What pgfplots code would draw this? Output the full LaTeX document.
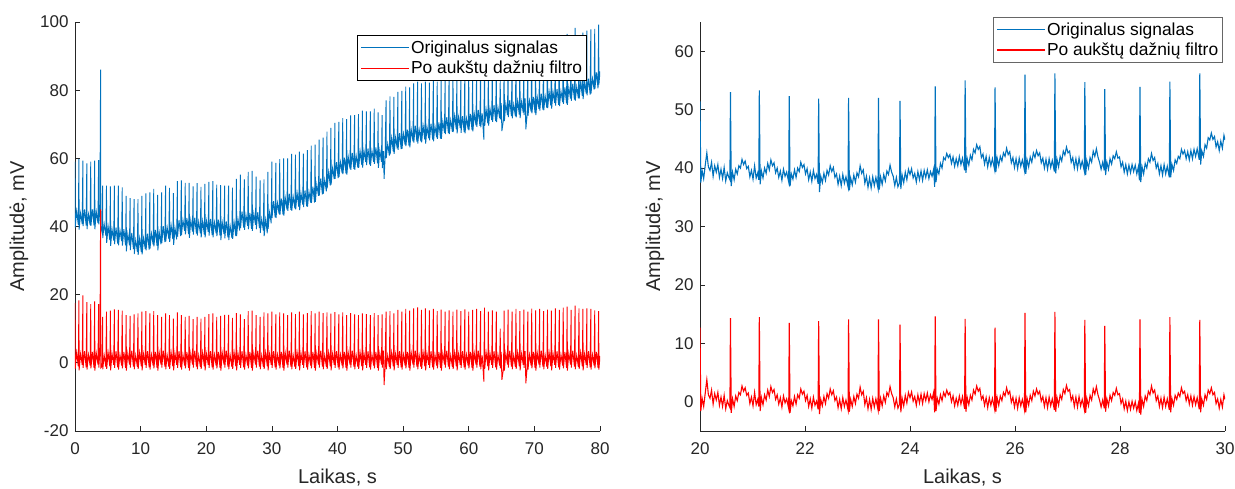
\documentclass[border=0pt]{standalone}
\usepackage{pgfplots}
\usepackage{pgfplotstable}
\pgfplotsset{compat=1.18}
\usepackage{fontspec}
\setmainfont{Liberation Sans}
\definecolor{mblue}{RGB}{0,114,189}
\definecolor{mred}{RGB}{255,0,0}
\definecolor{axgray}{RGB}{38,38,38}

\pgfplotstableread[row sep=\\]{
t b r\\
0 59.0 17.5\\ 0.03 39.7 -1.8\\ 0.25 44.5 3.0\\ 0.5 40.5 -1.0\\
0.6 59.8 18.3\\ 0.63 39.1 -2.2\\ 0.85 43.9 2.6\\ 1.1 40.7 -0.6\\
1.2 59.3 19.8\\ 1.23 40.1 -1.5\\ 1.45 45.0 3.4\\ 1.7 40.3 -1.3\\
1.8 58.5 17.8\\ 1.83 39.2 -2.0\\ 2.05 43.6 2.4\\ 2.3 40.4 -0.8\\
2.4 59.0 17.2\\ 2.43 40.2 -1.6\\ 2.65 45.0 3.2\\ 2.9 40.3 -1.5\\
3.0 59.3 18.0\\ 3.03 39.2 -2.3\\ 3.25 44.3 2.8\\ 3.5 41.0 -0.5\\
3.6 59.5 17.2\\ 3.63 40.6 -1.4\\ 3.8 45.6 3.6\\ 3.9 86.0 45.0\\ 3.93 40.0 -1.5\\ 4.1 38.5 -1.1\\
4.2 52.0 13.5\\ 4.23 36.6 -1.9\\ 4.45 40.7 2.2\\ 4.7 37.3 -1.2\\
4.8 52.0 15.0\\ 4.83 35.2 -1.8\\ 5.05 40.0 3.0\\ 5.3 36.0 -1.0\\
5.4 51.8 15.3\\ 5.43 34.3 -2.2\\ 5.65 39.1 2.6\\ 5.9 35.9 -0.6\\
6.0 52.0 15.7\\ 6.03 34.8 -1.5\\ 6.25 39.7 3.4\\ 6.5 35.0 -1.3\\
6.6 52.0 15.5\\ 6.63 34.5 -2.0\\ 6.85 38.9 2.4\\ 7.1 35.7 -0.8\\
7.2 51.5 15.3\\ 7.23 34.4 -1.6\\ 7.45 39.2 3.2\\ 7.7 34.5 -1.5\\
7.8 49.0 14.0\\ 7.83 32.7 -2.3\\ 8.05 37.8 2.8\\ 8.3 34.5 -0.5\\
8.4 48.3 13.8\\ 8.43 33.1 -1.4\\ 8.65 38.1 3.6\\ 8.9 33.4 -1.1\\
9.0 48.0 14.2\\ 9.03 31.9 -1.9\\ 9.25 36.0 2.2\\ 9.5 32.6 -1.2\\
9.6 48.0 14.5\\ 9.63 31.7 -1.8\\ 9.85 36.5 3.0\\ 10.1 32.5 -1.0\\
10.2 49.0 15.0\\ 10.23 31.8 -2.2\\ 10.45 36.6 2.6\\ 10.7 33.4 -0.6\\
10.8 49.7 15.2\\ 10.83 33.0 -1.5\\ 11.05 37.9 3.4\\ 11.3 33.2 -1.3\\
11.4 50.0 14.5\\ 11.43 33.5 -2.0\\ 11.65 37.9 2.4\\ 11.9 34.7 -0.8\\
12.0 51.0 15.2\\ 12.03 34.2 -1.6\\ 12.25 39.0 3.2\\ 12.5 34.3 -1.5\\
12.6 49.3 14.0\\ 12.63 33.0 -2.3\\ 12.85 38.1 2.8\\ 13.1 34.8 -0.5\\
13.2 50.0 13.5\\ 13.23 35.1 -1.4\\ 13.45 40.1 3.6\\ 13.7 35.4 -1.1\\
13.8 52.0 14.5\\ 13.83 35.6 -1.9\\ 14.05 39.7 2.2\\ 14.3 36.3 -1.2\\
14.4 51.3 14.0\\ 14.43 35.5 -1.8\\ 14.65 40.3 3.0\\ 14.9 36.3 -1.0\\
15.0 49.8 13.0\\ 15.03 34.6 -2.2\\ 15.25 39.4 2.6\\ 15.5 36.2 -0.6\\
15.6 53.3 14.8\\ 15.63 37.0 -1.5\\ 15.85 41.9 3.4\\ 16.1 37.2 -1.3\\
16.2 53.5 14.0\\ 16.23 37.5 -2.0\\ 16.45 41.9 2.4\\ 16.7 38.7 -0.8\\
16.8 52.8 13.5\\ 16.83 37.7 -1.6\\ 17.05 42.5 3.2\\ 17.3 37.8 -1.5\\
17.4 52.8 13.8\\ 17.43 36.7 -2.3\\ 17.65 41.8 2.8\\ 17.9 38.5 -0.5\\
18.0 51.8 12.8\\ 18.03 37.6 -1.4\\ 18.25 42.6 3.6\\ 18.5 37.9 -1.1\\
18.6 52.7 13.5\\ 18.63 37.3 -1.9\\ 18.85 41.4 2.2\\ 19.1 38.0 -1.2\\
19.2 51.6 13.0\\ 19.23 36.8 -1.8\\ 19.45 41.6 3.0\\ 19.7 37.6 -1.0\\
19.8 52.5 13.5\\ 19.83 36.8 -2.2\\ 20.05 41.6 2.6\\ 20.3 38.4 -0.6\\
20.4 53.1 14.3\\ 20.43 37.3 -1.5\\ 20.65 42.2 3.4\\ 20.9 37.5 -1.3\\
21.0 53.3 14.5\\ 21.03 36.8 -2.0\\ 21.25 41.2 2.4\\ 21.5 38.0 -0.8\\
21.6 52.3 13.5\\ 21.63 37.2 -1.6\\ 21.85 42.0 3.2\\ 22.1 37.3 -1.5\\
22.2 52.1 13.8\\ 22.23 36.0 -2.3\\ 22.45 41.1 2.8\\ 22.7 37.8 -0.5\\
22.8 52.0 14.1\\ 22.83 36.5 -1.4\\ 23.05 41.5 3.6\\ 23.3 36.8 -1.1\\
23.4 52.0 14.1\\ 23.43 36.0 -1.9\\ 23.65 40.1 2.2\\ 23.9 36.7 -1.2\\
24.0 51.4 13.2\\ 24.03 36.4 -1.8\\ 24.25 41.2 3.0\\ 24.5 37.2 -1.0\\
24.6 54.0 14.6\\ 24.63 37.2 -2.2\\ 24.85 42.0 2.6\\ 25.1 38.8 -0.6\\
25.2 55.2 14.2\\ 25.23 39.5 -1.5\\ 25.45 44.4 3.4\\ 25.7 39.7 -1.3\\
25.8 53.8 12.8\\ 25.83 39.0 -2.0\\ 26.05 43.4 2.4\\ 26.3 40.2 -0.8\\
26.4 56.0 15.2\\ 26.43 39.2 -1.6\\ 26.65 44.0 3.2\\ 26.9 39.3 -1.5\\
27.0 56.3 15.3\\ 27.03 38.7 -2.3\\ 27.25 43.8 2.8\\ 27.5 40.5 -0.5\\
27.6 54.6 14.0\\ 27.63 39.2 -1.4\\ 27.85 44.2 3.6\\ 28.1 39.5 -1.1\\
28.2 53.5 13.5\\ 28.23 38.1 -1.9\\ 28.45 42.2 2.2\\ 28.7 38.8 -1.2\\
28.8 53.8 14.8\\ 28.83 37.2 -1.8\\ 29.05 42.0 3.0\\ 29.3 38.0 -1.0\\
29.4 56.0 14.5\\ 29.43 39.3 -2.2\\ 29.65 44.1 2.6\\ 29.9 40.9 -0.6\\
30.0 59.0 15.0\\ 30.03 42.5 -1.5\\ 30.25 47.4 3.4\\ 30.5 42.7 -1.3\\
30.6 58.7 14.2\\ 30.63 42.5 -2.0\\ 30.85 46.9 2.4\\ 31.1 43.7 -0.8\\
31.2 59.8 14.8\\ 31.23 43.4 -1.6\\ 31.45 48.2 3.2\\ 31.7 43.5 -1.5\\
31.8 60.0 14.5\\ 31.83 43.2 -2.3\\ 32.05 48.3 2.8\\ 32.3 45.0 -0.5\\
32.4 60.0 14.0\\ 32.43 44.6 -1.4\\ 32.65 49.6 3.6\\ 32.9 44.9 -1.1\\
33.0 61.3 14.8\\ 33.03 44.6 -1.9\\ 33.25 48.7 2.2\\ 33.5 45.3 -1.2\\
33.6 61.1 14.3\\ 33.63 45.0 -1.8\\ 33.85 49.8 3.0\\ 34.1 45.8 -1.0\\
34.2 62.0 15.0\\ 34.23 44.8 -2.2\\ 34.45 49.6 2.6\\ 34.7 46.4 -0.6\\
34.8 61.4 14.2\\ 34.83 45.7 -1.5\\ 35.05 50.6 3.4\\ 35.3 45.9 -1.3\\
35.4 62.4 14.6\\ 35.43 45.8 -2.0\\ 35.65 50.2 2.4\\ 35.9 47.0 -0.8\\
36.0 63.7 15.2\\ 36.03 46.9 -1.6\\ 36.25 51.7 3.2\\ 36.5 47.0 -1.5\\
36.6 64.0 14.5\\ 36.63 47.2 -2.3\\ 36.85 52.3 2.8\\ 37.1 49.0 -0.5\\
37.2 65.5 15.0\\ 37.23 49.1 -1.4\\ 37.45 54.1 3.6\\ 37.7 49.4 -1.1\\
37.8 66.1 14.6\\ 37.83 49.6 -1.9\\ 38.05 53.7 2.2\\ 38.3 50.3 -1.2\\
38.4 67.8 14.8\\ 38.43 51.2 -1.8\\ 38.65 56.0 3.0\\ 38.9 52.0 -1.0\\
39.0 68.9 14.4\\ 39.03 52.3 -2.2\\ 39.25 57.1 2.6\\ 39.5 53.9 -0.6\\
39.6 70.4 14.9\\ 39.63 54.0 -1.5\\ 39.85 58.9 3.4\\ 40.1 54.2 -1.3\\
40.2 70.7 14.2\\ 40.23 54.5 -2.0\\ 40.45 58.9 2.4\\ 40.7 55.7 -0.8\\
40.8 71.8 14.8\\ 40.83 55.4 -1.6\\ 41.05 60.2 3.2\\ 41.3 55.5 -1.5\\
41.4 71.5 14.0\\ 41.43 55.2 -2.3\\ 41.65 60.3 2.8\\ 41.9 57.0 -0.5\\
42.0 72.6 14.6\\ 42.03 56.6 -1.4\\ 42.25 61.6 3.6\\ 42.5 56.9 -1.1\\
42.6 72.7 14.2\\ 42.63 56.6 -1.9\\ 42.85 60.7 2.2\\ 43.1 57.3 -1.2\\
43.2 73.0 14.0\\ 43.23 57.2 -1.8\\ 43.45 62.0 3.0\\ 43.7 58.0 -1.0\\
43.8 74.0 14.5\\ 43.83 57.3 -2.2\\ 44.05 62.1 2.6\\ 44.3 58.9 -0.6\\
44.4 73.8 14.3\\ 44.43 58.0 -1.5\\ 44.65 62.9 3.4\\ 44.9 58.2 -1.3\\
45.0 73.8 14.0\\ 45.03 57.8 -2.0\\ 45.25 62.2 2.4\\ 45.5 59.0 -0.8\\
45.6 74.6 14.6\\ 45.63 58.4 -1.6\\ 45.85 63.2 3.2\\ 46.1 58.5 -1.5\\
46.2 73.5 14.0\\ 46.23 57.2 -2.3\\ 46.45 62.3 2.8\\ 46.7 59.0 -0.5\\
46.8 72.7 14.2\\ 46.83 57.1 -1.4\\ 47.0 62.1 3.6\\ 47.1 54.0 -6.5\\ 47.25 60.0 -1.1\\
47.4 77.0 15.0\\ 47.43 60.1 -1.9\\ 47.65 64.2 2.2\\ 47.9 60.8 -1.2\\
48.0 78.2 15.2\\ 48.03 61.2 -1.8\\ 48.25 66.0 3.0\\ 48.5 62.0 -1.0\\
48.6 78.0 14.5\\ 48.63 61.3 -2.2\\ 48.85 66.1 2.6\\ 49.1 62.9 -0.6\\
49.2 79.5 15.5\\ 49.23 62.5 -1.5\\ 49.45 67.4 3.4\\ 49.7 62.7 -1.3\\
49.8 79.8 15.0\\ 49.83 62.8 -2.0\\ 50.05 67.2 2.4\\ 50.3 64.0 -0.8\\
50.4 81.0 15.8\\ 50.43 63.6 -1.6\\ 50.65 68.4 3.2\\ 50.9 63.7 -1.5\\
51.0 80.8 15.3\\ 51.03 63.2 -2.3\\ 51.25 68.3 2.8\\ 51.5 65.0 -0.5\\
51.6 82.0 16.0\\ 51.63 64.6 -1.4\\ 51.85 69.6 3.6\\ 52.1 64.9 -1.1\\
52.2 82.5 16.3\\ 52.23 64.3 -1.9\\ 52.45 68.4 2.2\\ 52.7 65.0 -1.2\\
52.8 82.0 15.5\\ 52.83 64.7 -1.8\\ 53.05 69.5 3.0\\ 53.3 65.5 -1.0\\
53.4 82.5 16.0\\ 53.43 64.3 -2.2\\ 53.65 69.1 2.6\\ 53.9 65.9 -0.6\\
54.0 82.2 15.4\\ 54.03 65.3 -1.5\\ 54.25 70.2 3.4\\ 54.5 65.5 -1.3\\
54.6 82.8 15.8\\ 54.63 65.0 -2.0\\ 54.85 69.4 2.4\\ 55.1 66.2 -0.8\\
55.2 82.5 15.2\\ 55.23 65.7 -1.6\\ 55.45 70.5 3.2\\ 55.7 65.8 -1.5\\
55.8 83.6 15.6\\ 55.83 65.7 -2.3\\ 56.05 70.8 2.8\\ 56.3 67.5 -0.5\\
56.4 83.5 15.0\\ 56.43 67.1 -1.4\\ 56.65 72.1 3.6\\ 56.9 67.4 -1.1\\
57.0 84.4 15.4\\ 57.03 67.1 -1.9\\ 57.25 71.2 2.2\\ 57.5 67.8 -1.2\\
57.6 84.5 15.0\\ 57.63 67.7 -1.8\\ 57.85 72.5 3.0\\ 58.1 68.5 -1.0\\
58.2 85.1 15.6\\ 58.23 67.3 -2.2\\ 58.45 72.1 2.6\\ 58.7 68.9 -0.6\\
58.8 84.2 15.2\\ 58.83 67.5 -1.5\\ 59.05 72.4 3.4\\ 59.3 67.7 -1.3\\
59.4 85.0 15.7\\ 59.43 67.3 -2.0\\ 59.65 71.7 2.4\\ 59.9 68.5 -0.8\\
60.0 84.8 15.0\\ 60.03 68.2 -1.6\\ 60.25 73.0 3.2\\ 60.5 68.3 -1.5\\
60.6 85.7 15.5\\ 60.63 67.9 -2.3\\ 60.85 73.0 2.8\\ 61.1 69.7 -0.5\\
61.2 86.4 15.8\\ 61.23 69.2 -1.4\\ 61.45 74.2 3.6\\ 61.7 69.5 -1.1\\
61.8 86.2 15.2\\ 61.83 69.1 -1.9\\ 62.05 73.2 2.2\\ 62.3 65.5 -5.5\\
62.4 87.5 16.2\\ 62.43 69.5 -1.8\\ 62.65 74.3 3.0\\ 62.9 70.3 -1.0\\
63.0 86.8 15.0\\ 63.03 69.6 -2.2\\ 63.25 74.4 2.6\\ 63.5 71.2 -0.6\\
63.6 87.6 15.4\\ 63.63 70.7 -1.5\\ 63.85 75.6 3.4\\ 64.1 70.9 -1.3\\
64.2 87.6 15.0\\ 64.23 70.6 -2.0\\ 64.45 75.0 2.4\\ 64.7 71.8 -0.8\\
64.8 83.0 10.0\\ 64.83 71.4 -1.6\\ 64.95 76.2 3.2\\ 65.05 68.0 -5.0\\ 65.3 71.5 -1.5\\
65.4 88.5 15.3\\ 65.43 70.9 -2.3\\ 65.65 76.0 2.8\\ 65.9 72.7 -0.5\\
66.0 89.1 15.6\\ 66.03 72.1 -1.4\\ 66.25 77.1 3.6\\ 66.5 72.4 -1.1\\
66.6 88.6 15.0\\ 66.63 71.7 -1.9\\ 66.85 75.8 2.2\\ 67.1 72.4 -1.2\\
67.2 89.6 15.8\\ 67.23 72.0 -1.8\\ 67.45 76.8 3.0\\ 67.7 72.8 -1.0\\
67.8 89.2 15.2\\ 67.83 71.8 -2.2\\ 68.05 76.6 2.6\\ 68.3 73.4 -0.6\\
68.4 89.8 15.6\\ 68.43 72.7 -1.5\\ 68.6 77.6 3.4\\ 68.7 68.5 -6.0\\ 68.9 72.9 -1.3\\
69.0 89.5 15.0\\ 69.03 72.5 -2.0\\ 69.25 76.9 2.4\\ 69.5 73.7 -0.8\\
69.6 90.7 15.9\\ 69.63 73.2 -1.6\\ 69.85 78.0 3.2\\ 70.1 73.3 -1.5\\
70.2 90.4 15.4\\ 70.23 72.7 -2.3\\ 70.45 77.8 2.8\\ 70.7 74.5 -0.5\\
70.8 91.2 15.8\\ 70.83 74.0 -1.4\\ 71.05 79.0 3.6\\ 71.3 74.3 -1.1\\
71.4 91.2 15.2\\ 71.43 74.1 -1.9\\ 71.65 78.2 2.2\\ 71.9 74.8 -1.2\\
72.0 92.1 15.6\\ 72.03 74.7 -1.8\\ 72.25 79.5 3.0\\ 72.5 75.5 -1.0\\
72.6 92.1 15.3\\ 72.63 74.6 -2.2\\ 72.85 79.4 2.6\\ 73.1 76.2 -0.6\\
73.2 93.0 16.0\\ 73.23 75.5 -1.5\\ 73.45 80.4 3.4\\ 73.7 75.7 -1.3\\
73.8 92.8 15.5\\ 73.83 75.3 -2.0\\ 74.05 79.7 2.4\\ 74.3 76.5 -0.8\\
74.4 93.8 16.2\\ 74.43 76.0 -1.6\\ 74.65 80.8 3.2\\ 74.9 76.1 -1.5\\
75.0 96.5 16.5\\ 75.03 75.7 -2.3\\ 75.25 80.8 2.8\\ 75.5 77.5 -0.5\\
75.6 93.8 15.5\\ 75.63 76.9 -1.4\\ 75.85 81.9 3.6\\ 76.1 77.2 -1.1\\
76.2 98.3 16.8\\ 76.23 76.9 -1.9\\ 76.45 81.0 2.2\\ 76.7 77.6 -1.2\\
76.8 95.3 16.0\\ 76.83 77.5 -1.8\\ 77.05 82.3 3.0\\ 77.3 78.3 -1.0\\
77.4 96.9 15.8\\ 77.43 77.4 -2.2\\ 77.65 82.2 2.6\\ 77.9 79.0 -0.6\\
78.0 97.5 16.0\\ 78.03 78.5 -1.5\\ 78.25 83.4 3.4\\ 78.5 78.7 -1.3\\
78.6 97.8 15.8\\ 78.63 79.0 -2.0\\ 78.85 83.4 2.4\\ 79.1 80.2 -0.8\\
79.2 98.0 15.4\\ 79.23 80.4 -1.6\\ 79.45 85.2 3.2\\ 79.7 80.5 -1.5\\
79.8 99.2 15.2\\ 79.83 81.6 -2.0\\ 80.0 85.5 2.0\\
}\lefttab

\pgfplotstableread[row sep=\\]{
t b r\\
20.000 51.4 12.7\\ 20.015 37.5 -1.6\\ 20.04 39.6 0.6\\ 20.07 38.2 -0.8\\ 20.10 40.5 1.5\\ 20.13 42.6 3.8\\ 20.16 40.2 1.2\\ 20.19 39.6 0.6\\ 20.22 41.0 2.0\\ 20.25 38.6 -0.4\\ 20.28 40.4 1.4\\ 20.31 39.3 0.3\\ 20.34 40.6 1.6\\ 20.37 38.4 -0.6\\ 20.40 39.8 0.8\\ 20.43 38.2 -0.8\\ 20.46 40.1 1.1\\ 20.49 37.8 -1.2\\ 20.52 39.2 0.2\\ 20.55 38.4 -0.6\\ 20.57 38.0 -1.0\\
20.58 53.0 14.3\\ 20.595 36.9 -1.9\\ 20.62 39.3 0.5\\ 20.65 38.0 -0.8\\ 20.68 39.8 1.0\\ 20.71 39.0 0.2\\ 20.74 40.4 1.6\\ 20.77 40.0 1.2\\ 20.80 41.5 2.7\\ 20.83 40.6 1.8\\ 20.86 41.2 2.4\\ 20.89 39.9 1.1\\ 20.92 40.3 1.5\\ 20.95 38.5 -0.3\\ 20.98 39.6 0.8\\ 21.01 38.1 -0.7\\ 21.04 40.4 1.6\\ 21.07 38.3 -0.5\\ 21.10 39.2 0.4\\ 21.12 38.0 -0.8\\
21.13 53.3 14.5\\ 21.145 37.2 -1.6\\ 21.17 39.5 0.7\\ 21.20 38.3 -0.5\\ 21.23 40.0 1.2\\ 21.26 39.1 0.3\\ 21.29 40.8 2.0\\ 21.32 39.7 0.9\\ 21.35 41.4 2.6\\ 21.38 40.4 1.6\\ 21.41 40.9 2.1\\ 21.44 39.2 0.4\\ 21.47 40.0 1.2\\ 21.50 38.4 -0.4\\ 21.53 39.5 0.7\\ 21.56 37.9 -0.9\\ 21.59 39.8 1.0\\ 21.62 38.6 -0.2\\ 21.65 39.3 0.5\\ 21.69 37.6 -1.2\\
21.70 52.3 13.5\\ 21.715 36.9 -1.9\\ 21.74 39.0 0.2\\ 21.77 38.1 -0.7\\ 21.80 39.7 0.9\\ 21.83 38.4 -0.4\\ 21.86 40.0 1.2\\ 21.89 39.4 0.6\\ 21.92 41.0 2.2\\ 21.95 40.1 1.3\\ 21.98 40.6 1.8\\ 22.01 39.0 0.2\\ 22.04 39.9 1.1\\ 22.07 38.0 -0.8\\ 22.10 39.3 0.5\\ 22.13 37.7 -1.1\\ 22.16 39.6 0.8\\ 22.19 38.2 -0.6\\ 22.22 38.9 0.1\\ 22.25 37.3 -1.3\\
22.26 51.9 13.8\\ 22.275 35.9 -2.1\\ 22.30 38.6 0.4\\ 22.33 37.5 -0.7\\ 22.36 39.1 0.9\\ 22.39 37.9 -0.3\\ 22.42 39.6 1.4\\ 22.45 38.8 0.6\\ 22.48 40.4 2.2\\ 22.51 39.4 1.2\\ 22.54 40.1 1.9\\ 22.57 38.4 0.2\\ 22.60 39.0 0.8\\ 22.63 37.2 -1.0\\ 22.66 38.6 0.4\\ 22.69 37.0 -1.2\\ 22.72 38.9 0.7\\ 22.75 37.4 -0.8\\ 22.78 38.5 0.3\\ 22.82 36.8 -1.4\\
22.83 52.0 14.1\\ 22.845 36.2 -1.7\\ 22.87 38.3 0.4\\ 22.90 37.1 -0.8\\ 22.93 38.8 0.9\\ 22.96 37.6 -0.3\\ 22.99 39.2 1.3\\ 23.02 38.5 0.6\\ 23.05 40.4 2.5\\ 23.08 39.1 1.2\\ 23.11 39.7 1.8\\ 23.14 37.4 -0.5\\ 23.17 38.6 0.7\\ 23.20 36.7 -1.2\\ 23.23 38.3 0.4\\ 23.26 36.6 -1.3\\ 23.29 38.5 0.6\\ 23.32 37.0 -0.9\\ 23.35 38.4 0.5\\ 23.39 36.6 -1.3\\
23.40 52.0 14.1\\ 23.415 36.3 -1.6\\ 23.44 38.5 0.6\\ 23.47 37.2 -0.7\\ 23.50 38.9 1.0\\ 23.53 37.8 -0.1\\ 23.56 39.5 1.6\\ 23.59 38.9 1.0\\ 23.62 40.5 2.6\\ 23.65 39.3 1.4\\ 23.68 38.6 0.7\\ 23.71 37.0 -0.9\\ 23.74 38.4 0.5\\ 23.77 36.8 -1.1\\ 23.80 37.5 -0.4\\
23.81 51.5 13.2\\ 23.825 36.4 -1.8\\ 23.85 38.8 0.6\\ 23.88 37.5 -0.7\\ 23.91 39.3 1.1\\ 23.94 38.0 -0.2\\ 23.97 39.8 1.6\\ 24.00 38.9 0.7\\ 24.03 39.9 1.7\\ 24.06 38.3 0.1\\ 24.09 39.1 0.9\\ 24.12 37.6 -0.6\\ 24.15 39.4 1.2\\ 24.18 38.0 -0.2\\ 24.21 39.5 1.3\\ 24.24 37.9 -0.3\\ 24.27 39.6 1.4\\ 24.30 38.4 0.2\\ 24.33 39.7 1.5\\ 24.36 38.2 0.0\\ 24.39 39.4 1.2\\ 24.42 38.6 0.4\\ 24.45 39.8 1.6\\ 24.47 36.8 -1.8\\
24.48 54.0 14.6\\ 24.495 37.6 -1.6\\ 24.52 39.8 0.6\\ 24.55 39.0 -0.4\\ 24.58 40.8 1.2\\ 24.61 40.0 0.2\\ 24.64 41.8 1.6\\ 24.67 41.4 0.9\\ 24.70 42.5 2.0\\ 24.73 41.8 1.2\\ 24.76 42.3 1.6\\ 24.79 40.8 0.0\\ 24.82 41.9 1.0\\ 24.85 40.3 -0.7\\ 24.88 41.6 0.6\\ 24.91 40.4 -0.6\\ 24.94 42.0 1.0\\ 24.97 40.6 -0.4\\ 25.00 41.7 0.9\\ 25.04 39.6 -1.2\\
25.05 55.0 14.2\\ 25.065 39.2 -1.7\\ 25.09 41.6 0.7\\ 25.12 40.5 -0.5\\ 25.15 42.2 1.1\\ 25.18 41.4 0.3\\ 25.21 43.2 2.0\\ 25.24 42.6 1.3\\ 25.27 44.0 2.7\\ 25.30 43.2 1.8\\ 25.33 43.7 2.3\\ 25.36 41.8 0.4\\ 25.39 42.4 1.0\\ 25.42 40.7 -0.6\\ 25.45 42.0 0.7\\ 25.48 40.2 -1.0\\ 25.51 41.8 0.7\\ 25.54 40.4 -0.6\\ 25.57 41.6 0.6\\ 25.61 39.8 -1.2\\
25.62 53.8 12.7\\ 25.635 39.3 -1.7\\ 25.66 41.7 0.7\\ 25.69 40.4 -0.6\\ 25.72 42.0 1.0\\ 25.75 41.2 0.2\\ 25.78 42.6 1.6\\ 25.81 42.0 1.0\\ 25.84 43.4 2.4\\ 25.87 42.3 1.3\\ 25.90 42.8 1.8\\ 25.93 40.9 -0.1\\ 25.96 41.8 0.8\\ 25.99 40.1 -0.9\\ 26.02 41.6 0.6\\ 26.05 39.9 -1.1\\ 26.08 41.7 0.7\\ 26.11 40.3 -0.7\\ 26.14 41.4 0.4\\ 26.18 39.6 -1.4\\
26.19 56.0 15.2\\ 26.205 39.0 -1.8\\ 26.23 41.4 0.6\\ 26.26 40.2 -0.6\\ 26.29 41.9 1.1\\ 26.32 41.0 0.2\\ 26.35 42.6 1.8\\ 26.38 41.8 1.0\\ 26.41 43.0 2.2\\ 26.44 42.1 1.3\\ 26.47 42.6 1.8\\ 26.50 40.9 0.1\\ 26.53 41.7 0.9\\ 26.56 40.0 -0.8\\ 26.59 41.5 0.7\\ 26.62 39.8 -1.0\\ 26.65 41.6 0.8\\ 26.68 40.1 -0.7\\ 26.71 41.3 0.5\\ 26.75 39.4 -1.4\\
26.76 56.2 15.4\\ 26.775 39.1 -1.7\\ 26.80 41.5 0.7\\ 26.83 40.2 -0.6\\ 26.86 42.0 1.2\\ 26.89 41.2 0.4\\ 26.92 42.9 2.1\\ 26.95 42.2 1.4\\ 26.98 43.6 2.8\\ 27.01 42.6 1.8\\ 27.04 42.9 2.1\\ 27.07 41.0 0.2\\ 27.10 41.8 1.0\\ 27.13 40.0 -0.8\\ 27.16 41.6 0.8\\ 27.19 39.9 -0.9\\ 27.22 41.7 0.9\\ 27.25 40.1 -0.7\\ 27.28 41.2 0.4\\ 27.32 39.5 -1.3\\
27.33 54.7 14.0\\ 27.345 38.8 -1.9\\ 27.37 41.2 0.5\\ 27.40 40.0 -0.7\\ 27.43 41.8 1.1\\ 27.46 41.0 0.3\\ 27.49 42.9 2.2\\ 27.52 42.0 1.3\\ 27.55 43.3 2.6\\ 27.58 41.9 1.2\\ 27.61 41.0 0.3\\ 27.64 39.8 -0.9\\ 27.67 41.0 0.3\\ 27.70 39.6 -1.1\\
27.71 53.5 13.0\\ 27.725 38.8 -1.7\\ 27.75 41.0 0.5\\ 27.78 39.8 -0.7\\ 27.81 41.6 1.1\\ 27.84 40.7 0.2\\ 27.87 42.1 1.6\\ 27.90 41.6 1.1\\ 27.93 42.8 2.3\\ 27.96 41.7 1.2\\ 27.99 41.9 1.4\\ 28.02 40.2 -0.3\\ 28.05 41.0 0.5\\ 28.08 39.3 -1.2\\ 28.11 40.6 0.1\\ 28.14 39.0 -1.5\\ 28.17 40.5 0.0\\ 28.20 39.2 -1.3\\ 28.23 40.6 0.1\\ 28.26 39.4 -1.1\\ 28.29 40.5 0.0\\ 28.32 39.0 -1.5\\ 28.35 40.2 -0.3\\ 28.37 37.9 -1.9\\
28.38 53.9 14.1\\ 28.395 37.6 -2.2\\ 28.42 40.2 0.4\\ 28.45 39.0 -0.8\\ 28.48 40.8 1.0\\ 28.51 40.0 0.2\\ 28.54 41.6 1.8\\ 28.57 41.0 1.2\\ 28.60 42.5 2.7\\ 28.63 41.3 1.5\\ 28.66 41.8 2.0\\ 28.69 40.0 0.2\\ 28.72 40.8 1.0\\ 28.75 39.0 -0.8\\ 28.78 40.4 0.6\\ 28.81 38.8 -1.0\\ 28.84 40.6 0.8\\ 28.87 39.0 -0.8\\ 28.90 40.3 0.5\\ 28.94 38.4 -1.4\\
28.95 54.8 14.5\\ 28.965 38.4 -1.8\\ 28.99 40.6 0.5\\ 29.02 39.6 -0.6\\ 29.05 41.4 1.1\\ 29.08 40.8 0.4\\ 29.11 42.0 1.5\\ 29.14 41.6 0.9\\ 29.17 43.2 2.4\\ 29.20 42.4 1.4\\ 29.23 43.0 1.8\\ 29.26 41.6 0.2\\ 29.29 42.8 1.2\\ 29.32 41.4 -0.4\\ 29.35 43.0 1.0\\ 29.38 41.6 -0.6\\ 29.41 43.2 0.9\\ 29.44 42.0 -0.5\\ 29.47 43.3 0.7\\ 29.51 41.4 -1.3\\
29.52 56.2 14.0\\ 29.535 40.6 -1.8\\ 29.56 42.9 0.4\\ 29.59 42.0 -0.6\\ 29.62 44.0 1.2\\ 29.65 43.4 0.4\\ 29.68 45.2 2.0\\ 29.71 44.8 1.4\\ 29.74 46.0 2.4\\ 29.77 44.9 1.2\\ 29.80 45.4 1.6\\ 29.83 43.6 -0.3\\ 29.86 44.5 0.5\\ 29.89 43.0 -1.1\\ 29.92 44.6 0.4\\ 29.95 43.4 -0.9\\ 29.98 45.6 1.2\\ 30.00 44.8 0.4\\
}\righttab

\pgfplotsset{
  mystyle/.style={
    scale only axis, width=525pt, height=409pt,
    axis x line*=bottom, axis y line*=left,
    axis line style={-, draw=axgray, line width=0.7pt},
    tick align=inside, major tick length=5pt,
    every tick/.style={draw=axgray, line width=0.7pt},
    tick label style={font=\fontsize{17}{20}\selectfont, text=axgray},
    /pgf/number format/assume math mode=true,
    xticklabel style={yshift=-8pt},
    yticklabel style={xshift=-3pt},
    label style={font=\fontsize{20}{24}\selectfont, text=axgray},
    xlabel style={at={(axis description cs:0.5,0)}, anchor=center, yshift=-47pt},
    legend cell align=left,
    legend image code/.code={\draw[#1] (0pt,0pt) -- (48pt,0pt);},
    legend style={draw=black, line width=0.6pt, fill=white, text=black,
      font=\fontsize{17.4}{20}\selectfont, inner xsep=3pt, inner ysep=4pt,
      row sep=3pt, nodes={inner sep=1.5pt}},
  }
}

\begin{document}
\begin{tikzpicture}
\path[use as bounding box] (0,0) rectangle (1235pt,489pt);
\begin{axis}[mystyle, at={(75pt,58pt)}, anchor=south west,
  xmin=0, xmax=80, ymin=-20, ymax=100,
  xtick={0,10,...,80}, ytick={-20,0,...,100},
  xlabel={Laikas, s}, ylabel={Amplitudė, mV},
  ylabel style={at={([xshift=-56pt]axis description cs:0,0.5)}, anchor=center, rotate=0},
  legend style={at={(axis description cs:1,1)}, anchor=north east, xshift=-13pt, yshift=-13pt}]
\addplot[mblue, line width=0.9pt] table[x=t, y=b] {\lefttab};
\addlegendentry{Originalus signalas}
\addplot[mred, line width=0.9pt] table[x=t, y=r] {\lefttab};
\addlegendentry{Po aukštų dažnių filtro}
\end{axis}
\begin{axis}[mystyle, at={(700pt,58pt)}, anchor=south west,
  xmin=20, xmax=30, ymin=-5, ymax=65,
  xtick={20,22,...,30}, ytick={0,10,...,60},
  xlabel={Laikas, s}, ylabel={Amplitudė, mV},
  ylabel style={at={([xshift=-45pt]axis description cs:0,0.5)}, anchor=center, rotate=0},
  legend style={at={(axis description cs:1,1)}, anchor=north east, xshift=-2pt, yshift=5pt, draw=black!60}]
\addplot[mblue, line width=1.1pt] table[x=t, y=b] {\righttab};
\addlegendentry{Originalus signalas}
\addplot[mred, line width=1.1pt] table[x=t, y=r] {\righttab};
\addlegendentry{Po aukštų dažnių filtro}
\end{axis}
\end{tikzpicture}
\end{document}
